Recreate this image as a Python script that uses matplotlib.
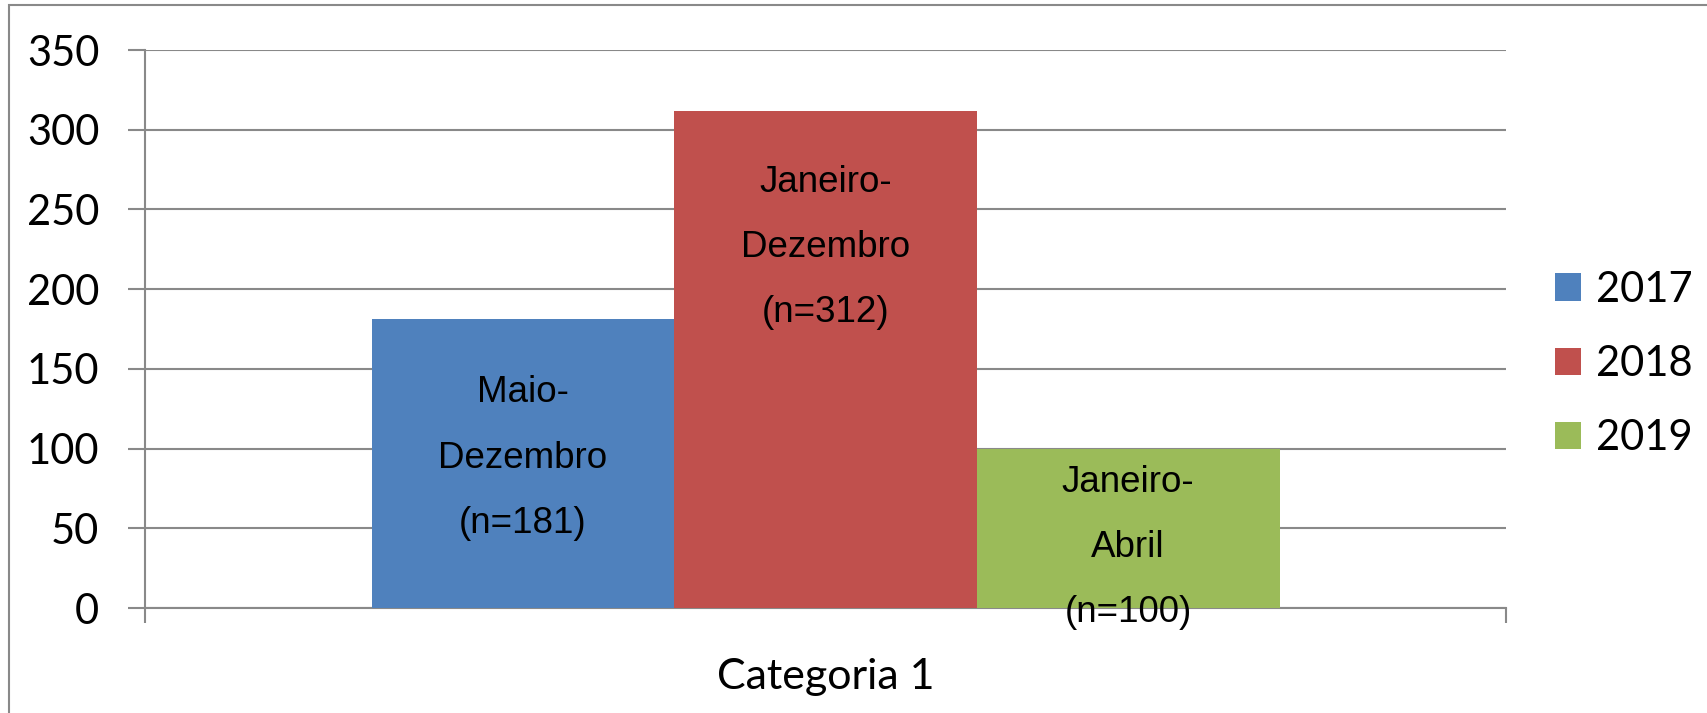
import matplotlib
matplotlib.use("Agg")
import matplotlib.pyplot as plt
from matplotlib.patches import Rectangle

# ---- data ----
category = "Categoria 1"
series = ["2017", "2018", "2019"]
values = [181, 312, 100]
bar_labels = ["Maio-\nDezembro\n(n=181)", "Janeiro-\nDezembro\n(n=312)", "Janeiro-\nAbril\n(n=100)"]
label_y = [94, 226, 38]
yticks = [0, 50, 100, 150, 200, 250, 300, 350]

colors = ["#4F81BD", "#C0504D", "#9BBB59"]
grid_c = "#898989"
W, H = 1708, 713

fig = plt.figure(figsize=(W / 100, H / 100), dpi=100)
ax = fig.add_axes([145 / W, 1 - 608 / H, (1506 - 145) / W, (608 - 50) / H])

bw = (1278 - 370) / (1506 - 145) / 3
offsets = [-bw, 0, bw]
for i, (s, v) in enumerate(zip(series, values)):
    ax.bar(offsets[i], v, width=bw, color=colors[i], label=s, zorder=3)
    ax.text(offsets[i], label_y[i], bar_labels[i], ha="center", va="center",
            fontsize=26.5, family="Liberation Sans", linespacing=2.12, zorder=4,
            color="black")

ax.set_xlim(-0.5, 0.5)
ax.set_ylim(0, 350)
ax.set_yticks(yticks)
ax.set_yticklabels([str(t) for t in yticks], family="Lato", fontsize=30)
ax.yaxis.grid(True, color=grid_c, linewidth=1.5, zorder=0)
ax.tick_params(axis="y", length=12, width=1.5, color=grid_c, pad=21)

ax.set_xticks([0])
ax.set_xticklabels([category], family="Lato", fontsize=31)
ax.tick_params(axis="x", which="major", length=0, pad=36)
ax.set_xticks([-0.5, 0.5], minor=True)
ax.tick_params(axis="x", which="minor", length=11, width=1.5, color=grid_c, direction="out")

for side in ["top", "right"]:
    ax.spines[side].set_visible(False)
for side in ["left", "bottom"]:
    ax.spines[side].set_color(grid_c)
    ax.spines[side].set_linewidth(1.5)
ax.set_axisbelow(True)

# outer chart border
fig.patches.append(Rectangle((9 / W, -0.2), 1.5, 1.2 - 5 / H, transform=fig.transFigure,
                             fill=False, edgecolor=grid_c, linewidth=1.5))

leg = fig.legend(loc="center left", bbox_to_anchor=(1555 / W, 1 - 364 / H), frameon=False,
                 prop={"family": "Lato", "size": 30}, handlelength=0.63, handleheight=0.63,
                 handletextpad=0.35, labelspacing=0.87, borderpad=0, borderaxespad=0)

fig.savefig("out.png", dpi=100)
